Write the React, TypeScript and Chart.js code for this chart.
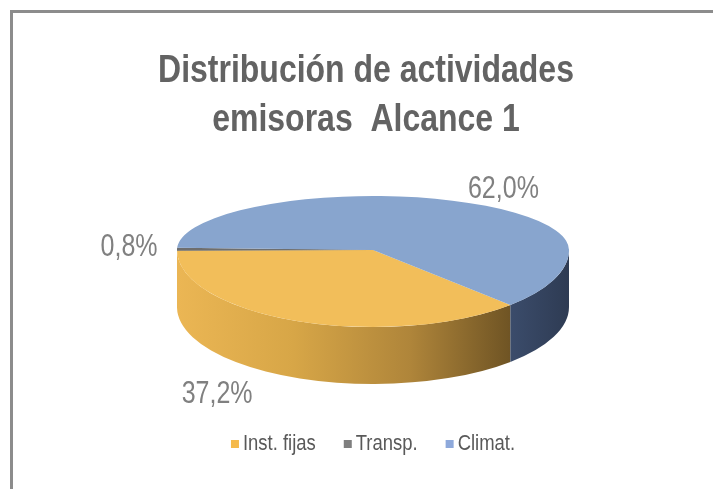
import React, { useEffect, useRef } from "react";
import { Chart, registerables } from "chart.js";

Chart.register(...registerables);

// ---- data ----
const categories = ["Inst. fijas", "Transp.", "Climat."];
const shares = [37.2, 0.8, 62.0];
const valueLabels = ["37,2%", "0,8%", "62,0%"];
const titleLines = ["Distribución de actividades", "emisoras  Alcance 1"];

// ---- styles ----
const FONT = '"Liberation Sans", Arial, sans-serif';
const NARROW = 0.82; // horizontal squeeze to mimic Arial Narrow
const TOP_COLORS = ["#F2BE5A", "#6E6E6E", "#88A5CE"];
const LEGEND_COLORS = ["#F5BA4B", "#7F7F7F", "#8EA9DB"];
const SIDE_STOPS: [number, string][][] = [
  [[0, "#EBB654"], [0.35, "#D7A647"], [0.7, "#AF853A"], [1, "#6F5424"]],
  [[0, "#5A5A5A"], [1, "#474747"]],
  [[0, "#3B4C6B"], [1, "#2E3B53"]],
];
// projected 3D geometry of the pie (perspective: upper half flatter than lower half)
const PIE = { cx: 373, cy: 250, rx: 196, ryTop: 54, ryBottom: 77, depth: 57 };
const LABEL_OFFSETS = [[-81, 25], [-48, 7], [51, -3]];
const TITLE_LAYOUT = { x: 366, y: 82, step: 49, size: 39 };
const LEGEND_LAYOUT = { cx: 373, baseline: 450, size: 22.5, box: 8, boxGap: 4, itemGap: 28 };

function narrowText(
  ctx: CanvasRenderingContext2D,
  text: string,
  x: number,
  y: number,
  size: number,
  weight: string,
  color: string,
  align: CanvasTextAlign
) {
  ctx.save();
  ctx.font = `${weight} ${size}px ${FONT}`;
  ctx.fillStyle = color;
  ctx.textBaseline = "alphabetic";
  ctx.textAlign = align;
  ctx.translate(x, y);
  ctx.scale(NARROW, 1);
  ctx.fillText(text, 0, 0);
  ctx.restore();
}

function narrowWidth(ctx: CanvasRenderingContext2D, text: string, size: number, weight: string) {
  ctx.save();
  ctx.font = `${weight} ${size}px ${FONT}`;
  const w = ctx.measureText(text).width * NARROW;
  ctx.restore();
  return w;
}

const pie3d = {
  id: "pie3d",
  beforeDatasetsDraw(chart: any) {
    const ctx: CanvasRenderingContext2D = chart.ctx;
    const arcs = chart.getDatasetMeta(0).data;
    if (!arcs.length) return;
    // side walls (front-facing part: angles in [0, PI])
    arcs.forEach((arc: any, i: number) => {
      const { startAngle, endAngle } = arc.getProps(["startAngle", "endAngle"], true);
      for (let k = -1; k <= 2; k++) {
        const lo = Math.max(startAngle, k * 2 * Math.PI);
        const hi = Math.min(endAngle, k * 2 * Math.PI + Math.PI);
        if (hi <= lo) continue;
        const xl = PIE.cx + PIE.rx * Math.cos(hi);
        const xr = PIE.cx + PIE.rx * Math.cos(lo);
        const g = ctx.createLinearGradient(xl, 0, Math.max(xr, xl + 1), 0);
        SIDE_STOPS[i].forEach(([o, c]) => g.addColorStop(o, c));
        ctx.save();
        ctx.beginPath();
        ctx.ellipse(PIE.cx, PIE.cy, PIE.rx, PIE.ryBottom, 0, lo, hi);
        ctx.ellipse(PIE.cx, PIE.cy + PIE.depth, PIE.rx, PIE.ryBottom, 0, hi, lo, true);
        ctx.closePath();
        ctx.fillStyle = g;
        ctx.fill();
        ctx.restore();
      }
    });
    // top surface, drawn with the library's arc elements under a projection
    const { x: cx0, y: cy0, outerRadius: R } = arcs[0].getProps(["x", "y", "outerRadius"], true);
    const passes: [number, number, number][] = [
      [PIE.ryTop, 0, PIE.cy + 0.5],
      [PIE.ryBottom, PIE.cy - 0.5, chart.height],
    ];
    passes.forEach(([ry, y0, y1]) => {
      ctx.save();
      ctx.beginPath();
      ctx.rect(0, y0, chart.width, y1 - y0);
      ctx.clip();
      ctx.translate(PIE.cx, PIE.cy);
      ctx.scale(PIE.rx / R, ry / R);
      ctx.translate(-cx0, -cy0);
      arcs.forEach((a: any) => a.draw(ctx));
      ctx.restore();
    });
    return false;
  },
  afterDraw(chart: any) {
    const ctx: CanvasRenderingContext2D = chart.ctx;
    const arcs = chart.getDatasetMeta(0).data;

    // title
    titleLines.forEach((line, i) => {
      narrowText(ctx, line, TITLE_LAYOUT.x, TITLE_LAYOUT.y + i * TITLE_LAYOUT.step, TITLE_LAYOUT.size, "bold", "#636363", "center");
    });

    // value labels
    arcs.forEach((arc: any, i: number) => {
      const { startAngle, endAngle } = arc.getProps(["startAngle", "endAngle"], true);
      const mid = (startAngle + endAngle) / 2;
      const c = Math.cos(mid);
      const s = Math.sin(mid);
      const ry = s < 0 ? PIE.ryTop : PIE.ryBottom;
      const x = PIE.cx + PIE.rx * c;
      const y = PIE.cy + ry * s + (s > 0 ? PIE.depth : 0);
      narrowText(ctx, valueLabels[i], x + LABEL_OFFSETS[i][0], y + LABEL_OFFSETS[i][1], 30.5, "normal", "#808080", "center");
    });

    // legend
    const L = LEGEND_LAYOUT;
    const widths = categories.map((t) => narrowWidth(ctx, t, L.size, "normal"));
    const total =
      widths.reduce((a, w) => a + w + L.box + L.boxGap, 0) + L.itemGap * (categories.length - 1);
    let x = L.cx - total / 2;
    categories.forEach((t, i) => {
      ctx.save();
      ctx.fillStyle = LEGEND_COLORS[i];
      ctx.fillRect(x, L.baseline - 10, L.box, L.box);
      ctx.restore();
      x += L.box + L.boxGap;
      narrowText(ctx, t, x, L.baseline, L.size, "normal", "#595959", "left");
      x += widths[i] + L.itemGap;
    });
  },
};

export default function App() {
  const ref = useRef<HTMLCanvasElement | null>(null);
  useEffect(() => {
    if (!ref.current) return;
    const chart = new Chart(ref.current, {
      type: "pie",
      data: {
        labels: categories,
        datasets: [{ data: shares, backgroundColor: TOP_COLORS, borderWidth: 0 }],
      },
      options: {
        responsive: true,
        maintainAspectRatio: false,
        animation: false,
        rotation: 135.5,
        plugins: {
          title: { display: false, text: titleLines },
          legend: { display: false },
          tooltip: { enabled: false },
        },
      },
      plugins: [pie3d],
    } as any);
    return () => chart.destroy();
  }, []);
  return (
    <div style={{ position: "absolute", left: 0, top: 0, width: 713, height: 489, background: "#fff" }}>
      <div
        style={{
          position: "absolute",
          left: 10,
          top: 10,
          width: 703,
          height: 479,
          boxSizing: "border-box",
          borderTop: "3px solid #8C8C8C",
          borderLeft: "3px solid #8C8C8C",
        }}
      />
      <div style={{ position: "absolute", left: 0, top: 0, width: 713, height: 489 }}>
        <canvas ref={ref} />
      </div>
    </div>
  );
}
